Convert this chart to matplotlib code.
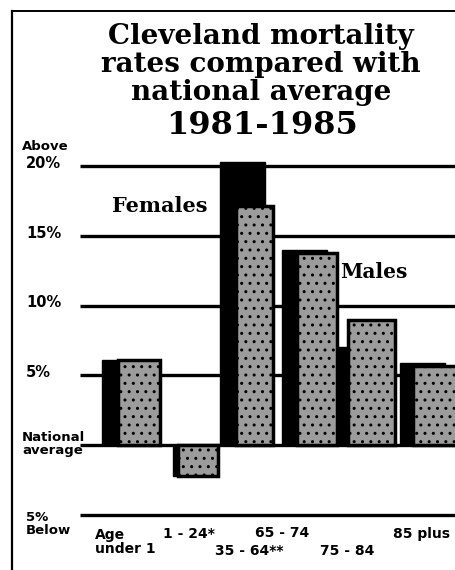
import matplotlib.pyplot as plt
from matplotlib.lines import Line2D

# values: percent above (+) / below (-) the national average
age_groups = ["Age\nunder 1", "1 - 24*", "35 - 64**", "65 - 74", "75 - 84", "85 plus"]
females = [6.1, -2.2, 20.3, 14.0, 7.0, 5.9]
males = [6.1, -2.2, 17.1, 13.8, 9.0, 5.7]
ticks = [20, 15, 10, 5, 0, -5]
tick_labels = ["20%", "15%", "10%", "5%", "National\naverage", "5%\nBelow"]

W, H = 455, 570
# pixel layout (x in px, y in percent via the axis scale)
fem_left = [102, 173, 220, 282, 338, 400]
male_left = [118, 178, 236, 297, 348, 413]
fem_w = [45, 45, 45, 45, 45, 45]
male_w = [42, 40, 37, 40, 47, 45]
label_pos = [(95, 542), (163, 534), (215, 551), (255, 533), (320, 551), (393, 534)]

ppu = (515 - 166) / 25.0          # pixels per percent
y_top = 20 + 166 / ppu
y_bot = -5 - (H - 515) / ppu


def py(p):
    # pixel row -> data y
    return y_top - p / ppu


fig = plt.figure(figsize=(W / 100, H / 100), dpi=100)
fig.patch.set_facecolor("white")
ax = fig.add_axes([0, 0, 1, 1])
ax.set_xlim(0, W)
ax.set_ylim(y_bot, y_top)
ax.axis("off")

slab = "DejaVu Serif"
narrow = ["Liberation Sans Narrow", "DejaVu Sans"]

# frame lines of the clipping
fig.add_artist(Line2D([12 / W, 12 / W], [0, 1 - 11 / H], color="black", lw=1.6,
                      transform=fig.transFigure))
fig.add_artist(Line2D([12 / W, 1], [1 - 11 / H, 1 - 11 / H], color="black", lw=1.4,
                      transform=fig.transFigure))

# grid lines
for t in ticks:
    ax.hlines(t, 80, W, color="black", lw=2.4, zorder=1)

# bars: females solid black behind, males textured in front
for i in range(len(age_groups)):
    ax.bar(fem_left[i], females[i], width=fem_w[i], align="edge",
           color="black", edgecolor="black", zorder=2)
    ax.bar(male_left[i], males[i], width=male_w[i], align="edge",
           color="#9c9c9c", edgecolor="black", linewidth=2.5,
           hatch="..", zorder=3)

# y labels
for t, lab in zip(ticks[:4], tick_labels[:4]):
    ax.text(26, t + 0.2, lab, ha="left", va="center", fontsize=10.5, weight="heavy",
            family=narrow)
ax.text(22, py(146), "Above", ha="left", va="center", fontsize=9.5,
        weight="heavy", family=narrow)
ax.text(22, py(444), tick_labels[4], ha="left", va="center", fontsize=9.5,
        weight="heavy", family=narrow, linespacing=0.95)
ax.text(26, py(524), tick_labels[5], ha="left", va="center", fontsize=9.5,
        weight="heavy", family=narrow, linespacing=1.05)

# x labels
for lab, (x, y) in zip(age_groups, label_pos):
    ax.text(x, py(y), lab, ha="left", va="center", fontsize=10, weight="heavy",
            family=narrow, linespacing=0.95)

# series names
ax.text(112, py(206), "Females", ha="left", va="center", fontsize=15,
        weight="bold", family=slab)
ax.text(340, py(272), "Males", ha="left", va="center", fontsize=14.5,
        weight="bold", family=slab)

# title
title_lines = ["Cleveland mortality", "rates compared with", "national average"]
for k, line in enumerate(title_lines):
    ax.text(261, py(36 + 28.5 * k), line, ha="center", va="center",
            fontsize=20, weight="bold", family=slab)
ax.text(262, py(125), "1981-1985", ha="center", va="center", fontsize=23,
        weight="bold", family=slab)

fig.savefig("out.png", dpi=100)
